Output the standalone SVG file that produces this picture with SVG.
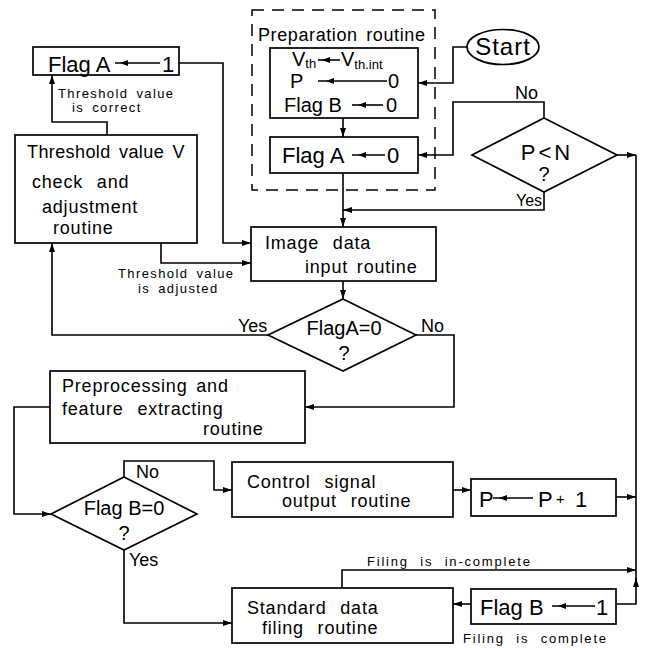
<svg xmlns="http://www.w3.org/2000/svg" width="645" height="648" viewBox="0 0 645 648">
<style>
  .box{fill:none;stroke:#000;stroke-width:1.7}
  .c{fill:none;stroke:#000;stroke-width:1.6}
  .ta{fill:none;stroke:#000;stroke-width:1.6}
  text{font-family:"Liberation Sans",Arial,sans-serif;fill:#000}
  .t{font-size:18px;letter-spacing:0.8px;word-spacing:3px}
  .big{font-size:22px}
  .mid{font-size:20px}
  .sm{font-size:13px;letter-spacing:1.4px;word-spacing:3px}
  .dq{font-size:20px}
  .sub{font-size:13px}
</style>
<defs>
  <marker id="a" markerUnits="userSpaceOnUse" markerWidth="10" markerHeight="8" refX="9" refY="3" orient="auto">
    <path d="M0,0 L9,3 L0,6 z" fill="#000"/>
  </marker>
  <marker id="h" markerUnits="userSpaceOnUse" markerWidth="10" markerHeight="8" refX="4" refY="3" orient="auto">
    <path d="M0,0 L8,3 L0,6 z" fill="#000"/>
  </marker>
</defs>

<g id="connectors">
  <path class="c" d="M467,47 H453 V83 H418" marker-end="url(#a)"/>
  <path class="c" d="M343,118 V137" marker-end="url(#a)"/>
  <path class="c" d="M343,173 V227" marker-end="url(#a)"/>
  <path class="c" d="M544,192 V210 H343" marker-end="url(#a)"/>
  <path class="c" d="M544,118 V102 H453 V155 H418" marker-end="url(#a)"/>
  <path class="c" d="M617,155 H636" marker-end="url(#a)"/>
  <path class="c" d="M617,604 H636 V578" marker-end="url(#a)"/>
  <path class="c" d="M636,580 V155"/>
  <path class="c" d="M616,497 H636" marker-end="url(#a)"/>
  <path class="c" d="M342,588 V570 H636" marker-end="url(#a)"/>
  <path class="c" d="M471,604 H453" marker-end="url(#a)"/>
  <path class="c" d="M453,490 H471" marker-end="url(#a)"/>
  <path class="c" d="M124,477 V461 H214 V490 H232" marker-end="url(#a)"/>
  <path class="c" d="M124,550 V623 H232" marker-end="url(#a)"/>
  <path class="c" d="M50,407 H14 V514 H51" marker-end="url(#a)"/>
  <path class="c" d="M416,335 H454 V407 H305" marker-end="url(#a)"/>
  <path class="c" d="M268,335 H52 V243" marker-end="url(#a)"/>
  <path class="c" d="M343,281 V299" marker-end="url(#a)"/>
  <path class="c" d="M161,243 V263 H251" marker-end="url(#a)"/>
  <path class="c" d="M107,135 V122 H52 V75" marker-end="url(#a)"/>
  <path class="c" d="M179,63 H223 V243 H251" marker-end="url(#a)"/>
  <text class="sm" x="58" y="98">Threshold value</text>
  <text class="sm" x="72" y="112">is correct</text>
  <text class="sm" x="118" y="278">Threshold value</text>
  <text class="sm" x="138" y="293">is adjusted</text>
  <text class="sm" x="367" y="566" style="letter-spacing:1.8px;word-spacing:6px">Filing is in-complete</text>
  <text class="sm" x="463" y="643" style="letter-spacing:1.8px;word-spacing:6px">Filing is complete</text>
  <text class="t" x="515" y="99" style="letter-spacing:0">No</text>
  <text x="516" y="206" style="font-size:16px">Yes</text>
  <text class="t" x="238" y="332" style="letter-spacing:0">Yes</text>
  <text class="t" x="421" y="332" style="letter-spacing:0">No</text>
  <text class="t" x="136" y="478" style="letter-spacing:0">No</text>
  <text class="t" x="129" y="566" style="letter-spacing:0">Yes</text>
</g>

<g id="flagA1">
  <rect class="box" x="33" y="47" width="146" height="28"/>
  <text class="big" x="48" y="72">Flag A</text>
  <path class="ta" d="M160,63 L124,63 L115,63" marker-mid="url(#h)"/>
  <text class="big" x="162" y="72">1</text>
</g>

<g id="threshold">
  <rect class="box" x="15" y="135" width="182" height="108"/>
  <text class="t" x="27" y="158" style="letter-spacing:0.4px">Threshold value V</text>
  <text class="t" x="32" y="188" style="word-spacing:8px">check and</text>
  <text class="t" x="42" y="213">adjustment</text>
  <text class="t" x="53" y="234">routine</text>
</g>

<g id="preparation">
  <rect x="252" y="10" width="183" height="180" fill="none" stroke="#000" stroke-width="1.5" stroke-dasharray="12,8"/>
  <text class="t" x="258" y="41" style="letter-spacing:0.6px">Preparation routine</text>
</g>

<g id="initBox">
  <rect class="box" x="270" y="48" width="148" height="70"/>
  <text class="mid" x="292" y="66">V<tspan class="sub" dy="2">th</tspan></text>
  <path class="ta" d="M340,60 L326,60 L318,60" marker-mid="url(#h)"/>
  <text class="mid" x="341" y="66">V<tspan class="sub" dy="3">th.int</tspan></text>
  <text class="mid" x="290" y="88">P</text>
  <path class="ta" d="M387,81 L330,81 L318,81" marker-mid="url(#h)"/>
  <text class="mid" x="388" y="88">0</text>
  <text class="mid" x="284" y="112">Flag B</text>
  <path class="ta" d="M383,105 L362,105 L352,105" marker-mid="url(#h)"/>
  <text class="mid" x="386" y="112">0</text>
</g>

<g id="flagA0">
  <rect class="box" x="270" y="137" width="148" height="36"/>
  <text class="big" x="282" y="163">Flag A</text>
  <path class="ta" d="M385,155 L362,155 L352,155" marker-mid="url(#h)"/>
  <text class="big" x="387" y="163">0</text>
</g>

<g id="start">
  <ellipse cx="503" cy="47" rx="36" ry="17.5" fill="none" stroke="#000" stroke-width="1.7"/>
  <text x="503" y="55" text-anchor="middle" style="font-size:24px;letter-spacing:1px">Start</text>
</g>

<g id="pn">
  <polygon class="box" points="544,118 617,155 544,192 472,155"/>
  <text class="big" x="547" y="160" text-anchor="middle" style="letter-spacing:3px">P&lt;N</text>
  <text class="dq" x="544" y="181" text-anchor="middle">?</text>
</g>

<g id="imageInput">
  <rect class="box" x="251" y="227" width="185" height="54"/>
  <text class="t" x="265" y="249" style="word-spacing:8px">Image data</text>
  <text class="t" x="305" y="273">input routine</text>
</g>

<g id="flagA0q">
  <polygon class="box" points="343,299 416,335 343,371 268,335"/>
  <text class="dq" x="344" y="335" text-anchor="middle">FlagA=0</text>
  <text class="dq" x="344" y="360" text-anchor="middle">?</text>
</g>

<g id="preprocessing">
  <rect class="box" x="50" y="371" width="255" height="72"/>
  <text class="t" x="62" y="392">Preprocessing and</text>
  <text class="t" x="62" y="415" style="word-spacing:8px">feature extracting</text>
  <text class="t" x="203" y="435">routine</text>
</g>

<g id="flagB0q">
  <polygon class="box" points="124,477 197,514 124,550 51,514"/>
  <text class="dq" x="124" y="515" text-anchor="middle">Flag B=0</text>
  <text class="dq" x="124" y="540" text-anchor="middle">?</text>
</g>

<g id="control">
  <rect class="box" x="232" y="462" width="221" height="55"/>
  <text class="t" x="247" y="488" style="word-spacing:8px">Control signal</text>
  <text class="t" x="282" y="507" style="word-spacing:8px">output routine</text>
</g>

<g id="pInc">
  <rect class="box" x="471" y="479" width="145" height="37"/>
  <text class="big" x="479" y="507">P</text>
  <path class="ta" d="M533,498 L503,498 L493,498" marker-mid="url(#h)"/>
  <text class="big" x="538" y="507">P</text>
  <text x="556" y="504" style="font-size:15px">+</text>
  <text class="big" x="575" y="507">1</text>
</g>

<g id="standard">
  <rect class="box" x="232" y="588" width="221" height="55"/>
  <text class="t" x="247" y="614" style="word-spacing:8px">Standard data</text>
  <text class="t" x="262" y="634" style="word-spacing:8px">filing routine</text>
</g>

<g id="flagB1">
  <rect class="box" x="471" y="589" width="145" height="35"/>
  <text class="big" x="480" y="615">Flag B</text>
  <path class="ta" d="M595,606 L562,606 L552,606" marker-mid="url(#h)"/>
  <text class="big" x="596" y="615">1</text>
</g>
</svg>
